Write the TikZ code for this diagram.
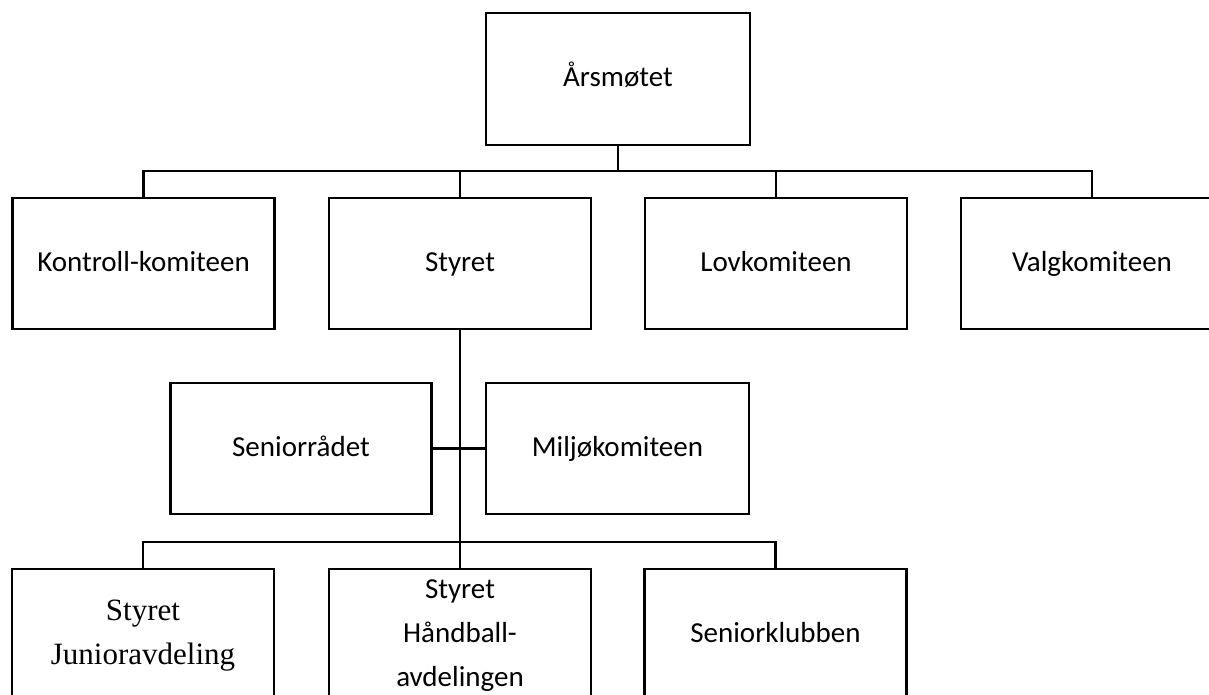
\documentclass[tikz,border=0pt]{standalone}
\usepackage{fontspec}
\setmainfont{Carlito}
\newfontfamily\serifbox{Liberation Serif}
\begin{document}
\begin{tikzpicture}[x=1pt,y=-1pt,
  box/.style={draw=black, line width=2.4pt, fill=white, rectangle, inner sep=0pt,
    minimum width=262pt, minimum height=131pt, align=center,
    text height=20pt, text depth=4pt,
    font=\fontsize{29}{44}\selectfont},
  serifbox/.style={box, font=\serifbox\fontsize{31}{44}\selectfont},
  conn/.style={draw=black, line width=2.2pt}]
\useasboundingbox (0,0) rectangle (1209,695);
\fill[white] (0,0) rectangle (1209,695);
% junctions
\coordinate (j1) at (618,171);
\coordinate (j2) at (460,542);
% nodes
\node[box, minimum width=264pt, minimum height=132pt] (aars) at (618,79) {Årsmøtet};
\node[box] (kont) at (143.5,263.5) {Kontroll-komiteen};
\node[box] (styr) at (460,263.5) {Styret};
\node[box] (lov) at (776,263.5) {Lovkomiteen};
\node[box] (valg) at (1092,263.5) {Valgkomiteen};
\node[box, minimum width=261pt] (senr) at (301,448.5) {Seniorrådet};
\node[box, minimum width=263pt] (milj) at (617.5,448.5) {Miljøkomiteen};
\node[serifbox, text height=64pt] (jun) at (143,634.5) {Styret\\Junioravdeling};
\node[box, text height=108pt] (hand) at (460,634.5) {Styret\\Håndball-\\avdelingen};
\node[box] (senk) at (775.5,634.5) {Seniorklubben};
% connectors
\draw[conn] (aars.south) -- (j1);
\draw[conn] (kont.north) |- (j1);
\draw[conn] (styr.north) |- (j1);
\draw[conn] (lov.north) |- (j1);
\draw[conn] (valg.north) |- (j1);
\draw[conn] (styr.south) -- (hand.north);
\draw[conn] (senr.east) -- (milj.west);
\draw[conn] (jun.north) |- (j2);
\draw[conn] (senk.north) |- (j2);
\end{tikzpicture}
\end{document}
